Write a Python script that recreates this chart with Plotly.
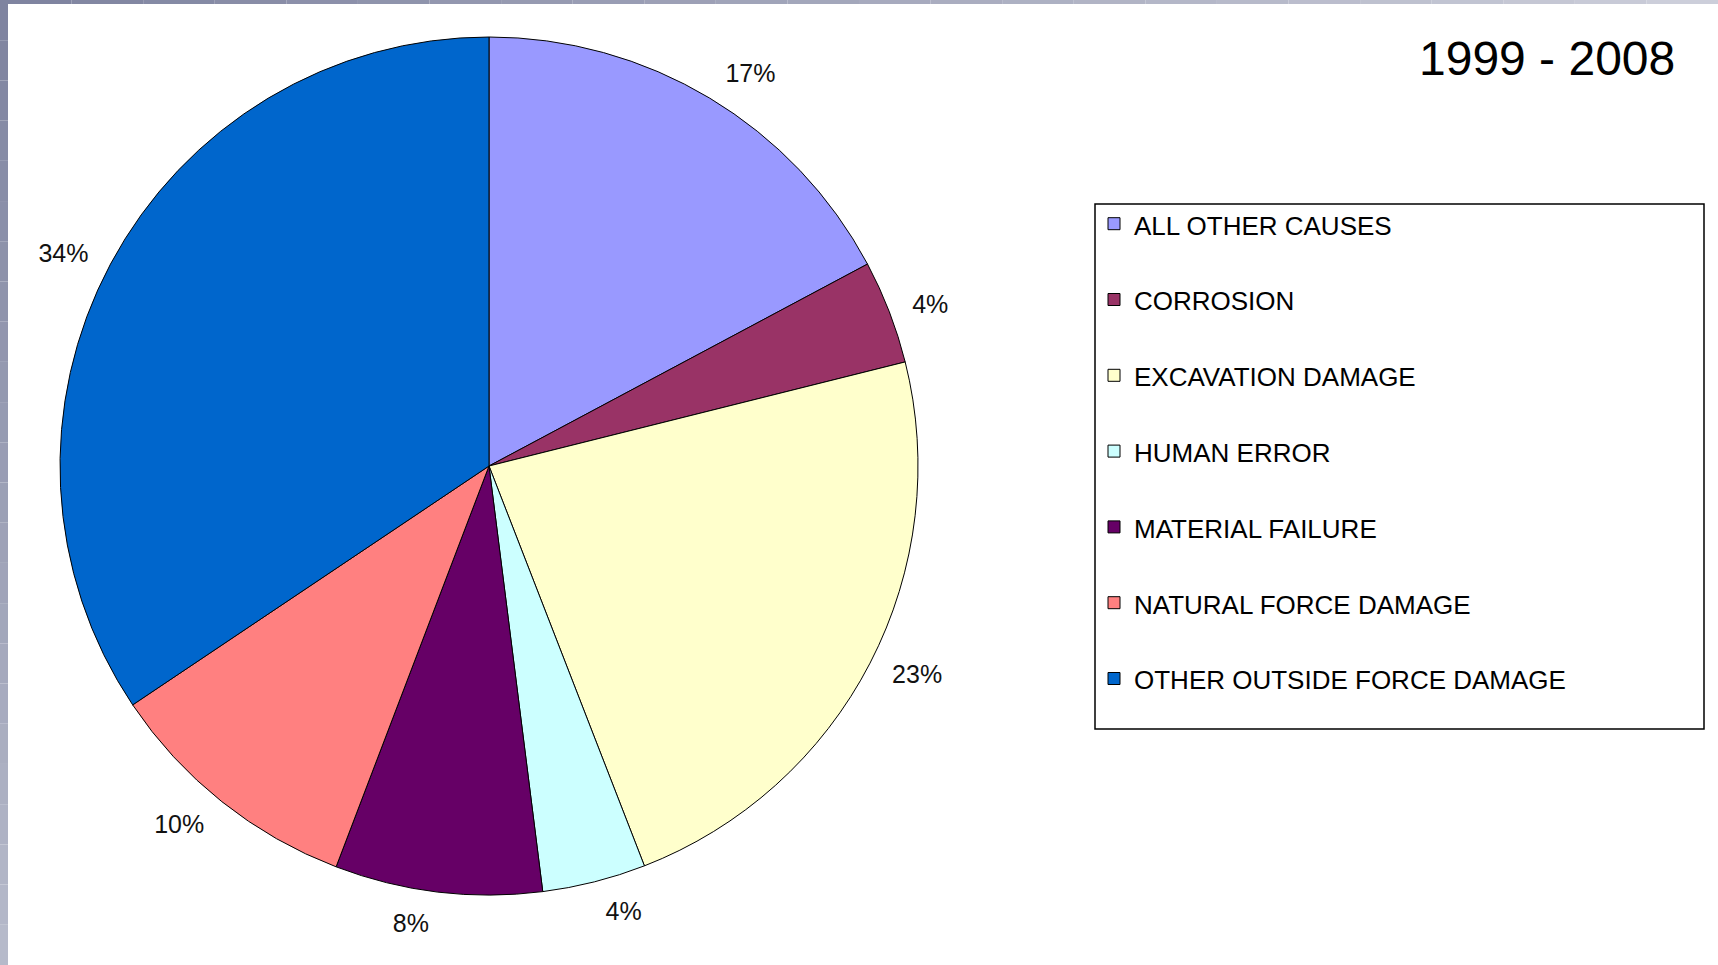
import plotly.graph_objects as go

W, H = 1718, 965

categories = [
    "ALL OTHER CAUSES",
    "CORROSION",
    "EXCAVATION DAMAGE",
    "HUMAN ERROR",
    "MATERIAL FAILURE",
    "NATURAL FORCE DAMAGE",
    "OTHER OUTSIDE FORCE DAMAGE",
]
shares = [17.2, 3.9, 23.0, 3.9, 7.8, 9.8, 34.4]
colors = ["#9999FF", "#993366", "#FFFFCC", "#CCFFFF", "#660066", "#FF8080", "#0066CC"]
title_text = "1999 - 2008"

FONT = "Liberation Sans, Arial, sans-serif"

# pie placement (pixels)
cx, cy, r = 489, 466, 429
label_r = r + 17  # radius of the (invisible) label ring


def domain(rad):
    return dict(x=[(cx - rad) / W, (cx + rad) / W],
                y=[1 - (cy + rad) / H, 1 - (cy - rad) / H])


legend_labels = ['<span style="font-size:26px">%s</span><br> ' % c for c in categories]

fig = go.Figure()
# percent labels, carried by a transparent ring slightly larger than the pie
fig.add_trace(go.Pie(
    labels=legend_labels,
    values=shares,
    sort=False,
    direction="clockwise",
    rotation=0,
    marker=dict(colors=["rgba(0,0,0,0)"] * len(shares), line=dict(width=0)),
    textposition="outside",
    texttemplate="%{percent:.0%}",
    textfont=dict(family=FONT, size=25, color="#111111"),
    domain=domain(label_r),
    showlegend=False,
    hoverinfo="skip",
))
# the visible pie
fig.add_trace(go.Pie(
    labels=legend_labels,
    values=shares,
    sort=False,
    direction="clockwise",
    rotation=0,
    marker=dict(colors=colors, line=dict(color="#000000", width=1)),
    textinfo="none",
    domain=domain(r),
    hoverinfo="skip",
))

shapes = []
# legend frame
shapes.append(dict(type="rect", xref="paper", yref="paper",
                   x0=1095 / W, x1=1704 / W, y0=1 - 729 / H, y1=1 - 204 / H,
                   line=dict(color="#000000", width=1.5), fillcolor="rgba(0,0,0,0)"))

# window frame strips (decoration)
N = 24
c_top_left = (127, 132, 160)
c_bottom_left = (182, 186, 202)
c_top_right = (204, 206, 218)
for i in range(N):
    t = i / (N - 1)
    col = tuple(int(a + (b - a) * t) for a, b in zip(c_top_left, c_bottom_left))
    shapes.append(dict(type="rect", xref="paper", yref="paper",
                       x0=0, x1=8 / W, y0=1 - (i + 1) / N, y1=1 - i / N,
                       line=dict(width=0), fillcolor="rgb(%d,%d,%d)" % col))
    col2 = tuple(int(a + (b - a) * t) for a, b in zip(c_top_left, c_top_right))
    shapes.append(dict(type="rect", xref="paper", yref="paper",
                       x0=i / N, x1=(i + 1) / N, y0=1 - 4 / H, y1=1,
                       line=dict(width=0), fillcolor="rgb(%d,%d,%d)" % col2))

fig.update_layout(
    width=W, height=H,
    margin=dict(l=0, r=0, t=0, b=0),
    paper_bgcolor="#FFFFFF",
    plot_bgcolor="#FFFFFF",
    showlegend=True,
    legend=dict(
        x=1094 / W, xanchor="left",
        y=1 - 199 / H, yanchor="top",
        font=dict(family=FONT, size=28, color="#000000"),
        bgcolor="rgba(0,0,0,0)",
        borderwidth=0,
        valign="top",
        traceorder="normal",
    ),
    shapes=shapes,
    annotations=[dict(
        text=title_text, xref="paper", yref="paper",
        x=1677 / W, xanchor="right", y=1 - 59 / H, yanchor="middle",
        showarrow=False, font=dict(family=FONT, size=48, color="#000000"),
    )],
)

fig.write_html("out.html", config={"displayModeBar": False},
               post_script="document.body.style.margin='0px';")
